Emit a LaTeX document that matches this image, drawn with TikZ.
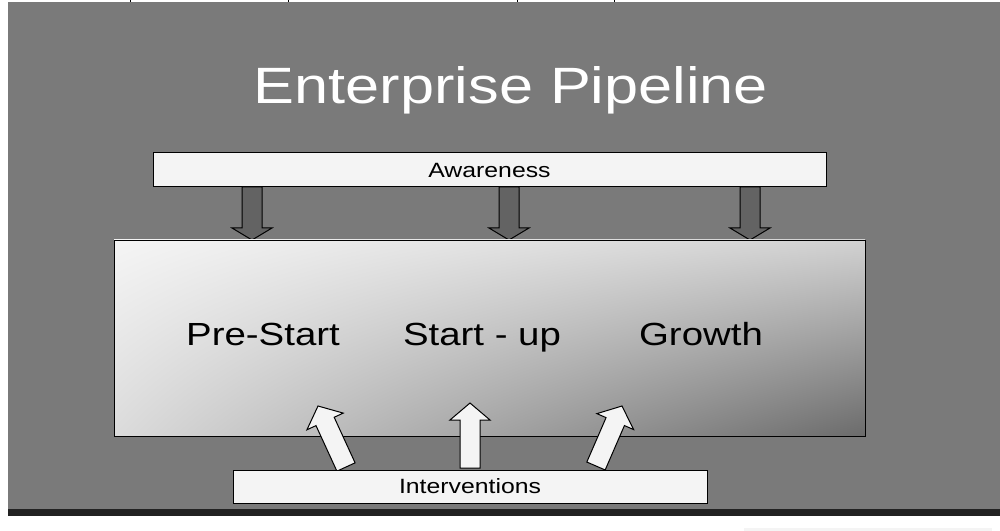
\documentclass[tikz,border=0pt]{standalone}
\usepackage{fontspec}
\setmainfont{Liberation Sans}[FakeStretch=1.2]
\usetikzlibrary{positioning}
\usetikzlibrary{calc}
\usetikzlibrary{shadings}

\definecolor{slide}{HTML}{7A7A7A}
\definecolor{paper}{HTML}{F4F4F4}
\definecolor{arrowgray}{HTML}{636363}
\definecolor{band}{HTML}{222222}

\begin{document}
\begin{tikzpicture}[x = 0.75pt, y = -0.75pt]
  \tikzstyle{bar}=[rectangle, draw = black, fill = paper, line width = 0.75pt, inner sep = 0pt, font = \fontsize{15.5}{18}\selectfont]
  \tikzstyle{stage}=[anchor = base, font = \fontsize{24}{28}\selectfont]
  \tikzstyle{fat}=[draw = black, line width = 0.75pt, to path = {let \p1 = (\tikztostart), \p2 = (\tikztotarget), \n1 = {atan2(\y2-\y1,\x2-\x1)} in
      ($(\p1)+(\n1+90:7.5pt)$) -- ($(\p2)+(\n1+180:#1)+(\n1+90:7.5pt)$) -- ($(\p2)+(\n1+180:#1)+(\n1+90:15pt)$) -- (\p2)
      -- ($(\p2)+(\n1+180:#1)+(\n1-90:15pt)$) -- ($(\p2)+(\n1+180:#1)+(\n1-90:7.5pt)$) -- ($(\p1)+(\n1-90:7.5pt)$) -- cycle}]
  \tikzstyle{push}=[fat = 9pt, fill = arrowgray]
  \tikzstyle{lift}=[fat = 12.75pt, fill = paper]

  \useasboundingbox (0,0) rectangle (1000,531);
  \fill[white] (0,0) rectangle (1000,531);
  \fill[slide] (8,2) rectangle (1000,509);
  \fill[band] (8,509) rectangle (1000,516);
  \fill[paper] (744,528) rectangle (992,531);
  \foreach \t in {130, 288, 517, 614}
    \draw[line width = 0.75pt] (\t,0) -- (\t,2);

  \node[anchor = base, text = white, font = \fontsize{38.3}{45}\selectfont] (title) at (511,104) {Enterprise Pipeline};

  \node[bar, minimum width = 504.75pt, minimum height = 25.5pt] (aw) at (489.5,170) {Awareness};

  % arrows from awareness into the pipeline
  \coordinate (aw1) at (252,187);
  \coordinate (aw2) at (509,187);
  \coordinate (aw3) at (750,187);
  \coordinate (tp1) at (252,240);
  \coordinate (tp2) at (509,240);
  \coordinate (tp3) at (750,240);
  \path (aw1) edge [push] (tp1)
        (aw2) edge [push] (tp2)
        (aw3) edge [push] (tp3);

  \node[rectangle, draw = black, line width = 0.5pt, upper left = black!4, upper right = black!18, lower left = black!14, lower right = black!58,
        minimum width = 563.25pt, minimum height = 147pt] (pipe) at (489.5,338) { };

  \node[stage] (pre) at (263,345) {Pre-Start};
  \node[stage] (start) at (482,345) {Start - up};
  \node[stage] (grow) at (701,345) {Growth};

  % arrows from interventions into the pipeline
  \coordinate (iv1) at (346,467);
  \coordinate (iv2) at (470,468);
  \coordinate (iv3) at (596,466);
  \coordinate (up1) at (318,406);
  \coordinate (up2) at (470,403);
  \coordinate (up3) at (622,406);
  \path (iv1) edge [lift] (up1)
        (iv2) edge [lift] (up2)
        (iv3) edge [lift] (up3);

  \node[bar, minimum width = 355.5pt, minimum height = 24.75pt] (iv) at (470,486.5) {Interventions};

\end{tikzpicture}
\end{document}
